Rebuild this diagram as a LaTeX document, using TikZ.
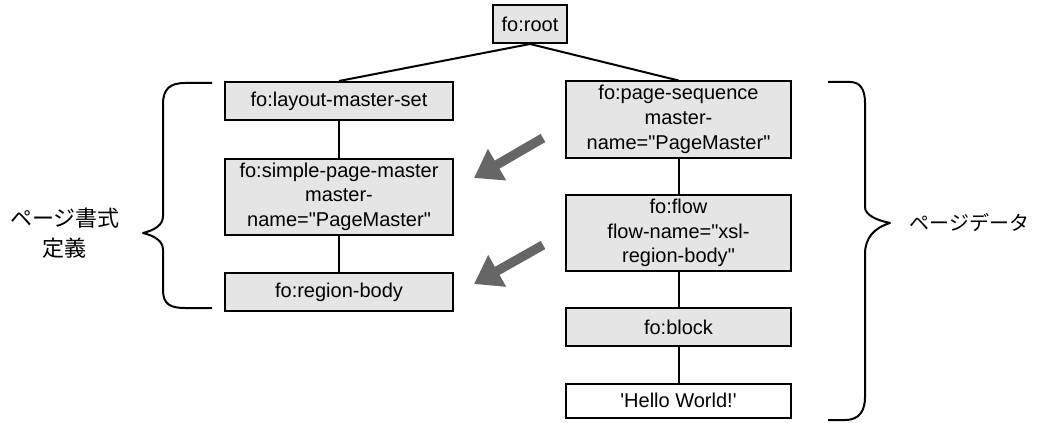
\documentclass[tikz,border=0pt]{standalone}
\usepackage{fontspec}
\setmainfont{Liberation Sans}
\newfontfamily\jafont{Noto Sans CJK JP}
\usepackage{tikz}
\usetikzlibrary{positioning, arrows.meta}
\tikzset{
    elem/.style={rectangle, draw=black, line width=1.5pt, fill=black!10, align=center, inner sep=1pt, minimum height=28.5pt, font=\fontsize{15pt}{18.5pt}\selectfont},
    leftbox/.style={elem, minimum width=171pt},
    rightbox/.style={elem, minimum width=169pt},
    tall/.style={minimum height=57pt},
    edge/.style={line width=1.5pt},
    hint/.style={line width=7pt, draw=black!60, -{Triangle[length=20pt, width=26pt]}},
    brace/.style={line width=1.5pt, line join=round},
    note/.style={align=center, font=\jafont\fontsize{16.5pt}{22.5pt}\selectfont}
}
\begin{document}
\begin{tikzpicture}[x=0.75pt, y=0.75pt]
        \useasboundingbox (0,0) rectangle (1037,422);

        % Root
        \node[elem, minimum width=56pt] (root) at (530,398) {fo:root};

        % Page layout side
        \node[leftbox] (layout) at (339,321) {fo:layout-master-set};
        \node[leftbox, tall, below=27.5pt of layout] (simple) {fo:simple-page-master\\master-\\name=\textquotedbl PageMaster\textquotedbl};
        \node[leftbox, below=27.5pt of simple] (region) {fo:region-body};

        % Page data side
        \node[rightbox, tall] (pageseq) at (678.5,302.5) {fo:page-sequence\\master-\\name=\textquotedbl PageMaster\textquotedbl};
        \node[rightbox, tall, below=26.5pt of pageseq] (flow) {fo:flow\\flow-name=\textquotedbl xsl-\\region-body\textquotedbl};
        \node[rightbox, below=26.5pt of flow] (block) {fo:block};
        \node[rightbox, fill=white, minimum height=25.5pt, below=26.5pt of block] (hello) {\textquotesingle Hello World!\textquotesingle};

        % Tree edges
        \draw[edge] (root.south) -- (layout.north);
        \draw[edge] (root.south) -- (pageseq.north);
        \draw[edge] (layout) -- (simple);
        \draw[edge] (simple) -- (region);
        \draw[edge] (pageseq) -- (flow);
        \draw[edge] (flow) -- (block);
        \draw[edge] (block) -- (hello);

        % Reference arrows
        \coordinate (hintA) at (543,284);
        \coordinate (tipA) at (474,244);
        \coordinate (hintB) at (543,177);
        \coordinate (tipB) at (474,138);
        \draw[hint] (hintA) -- (tipA);
        \draw[hint] (hintB) -- (tipB);

        % Braces
        \draw[brace] (212,339) -- (185,339) .. controls (170,339) and (163,333) .. (163,318)
            -- (163,206) .. controls (163,197) and (155,192) .. (143,189)
            .. controls (155,186) and (163,181) .. (163,172)
            -- (163,132) .. controls (163,118) and (170,114) .. (185,114) -- (212,114);
        \draw[brace] (828,340) -- (850,340) .. controls (860,340) and (865,333) .. (865,319)
            -- (865,215) .. controls (865,207) and (876,202) .. (890,199)
            .. controls (874,194) and (865,184) .. (865,168)
            -- (865,25) .. controls (865,12) and (860,2) .. (845,2) -- (828,2);

        % Labels
        \node[note] (layoutnote) at (65,189) {ページ書式\\定義};
        \node[note, font=\jafont\fontsize{15pt}{20pt}\selectfont, anchor=west] (datanote) at (905,199) {ページデータ};
    \end{tikzpicture}
\end{document}
